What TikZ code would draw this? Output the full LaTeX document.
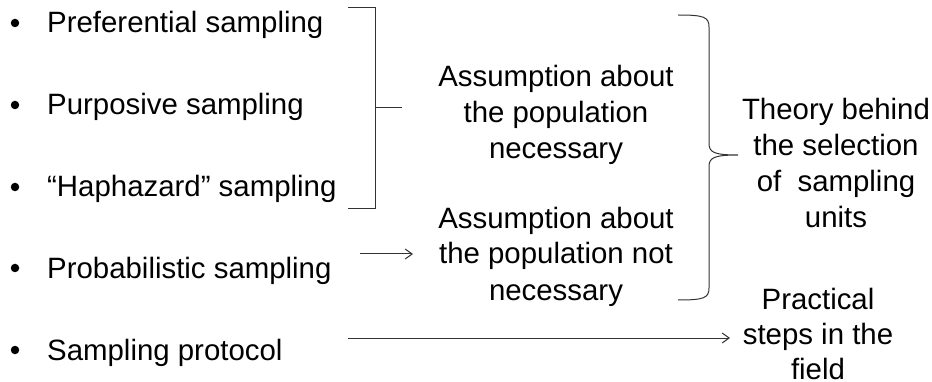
\documentclass[tikz,border=0pt]{standalone}
\usepackage{fontspec}
\setmainfont{Liberation Sans}
\usetikzlibrary{arrows.meta}
\begin{document}
\begin{tikzpicture}[x=1pt,y=-1pt,
  item/.style={anchor=base west,inner sep=0pt,font=\fontsize{29.4}{36}\selectfont},
  blk/.style={anchor=base,inner sep=0pt,align=center,font=\fontsize{29.4}{36}\selectfont},
  ln/.style={draw=black!80,line width=1pt},
  arr/.style={ln,-{Straight Barb[length=7pt,width=10pt]}},
  dot/.style={circle,fill=black,inner sep=0pt,minimum size=8.5pt}]
\useasboundingbox (0,0) rectangle (932,382);
% bullets
\foreach \y/\n in {33/1,115/2,197/3,278/4,360/5}{
  \node[dot] (b\n) at (15,\y-10) {};
}
\node[item] (i1) at (47,33) {Preferential sampling};
\node[item] (i2) at (47,115) {Purposive sampling};
\node[item] (i3) at (47,197) {“Haphazard” sampling};
\node[item] (i4) at (47,278) {Probabilistic sampling};
\node[item] (i5) at (47,360) {Sampling protocol};
% middle blocks (anchor = baseline of last line)
\node[blk] (a1) at (556,159) {Assumption about\\the population\\necessary};
\node[blk] (a2) at (556,300) {Assumption about\\the population not\\necessary};
% right blocks
\node[blk] (t) at (836,228) {Theory behind\\the selection\\of~ sampling\\units};
\node[blk,font=\fontsize{29.4}{35}\selectfont] (p) at (818,379) {Practical\\steps in the\\field};
% square bracket
\coordinate (k1) at (348,8);
\coordinate (k2) at (375,8);
\coordinate (k3) at (375,209);
\coordinate (k4) at (348,209);
\coordinate (km) at (375,108);
\coordinate (kt) at (402,108);
\draw[ln] (k1) -- (k2) -- (k3) -- (k4);
\draw[ln] (km) -- (kt);
% arrows
\coordinate (s1) at (360,254);
\coordinate (e1) at (413,254);
\draw[arr] (s1) -- (e1);
\coordinate (s2) at (348,338);
\coordinate (e2) at (730,338);
\draw[arr] (s2) -- (e2);
% curly brace
\coordinate (c1) at (678,15);
\coordinate (ctip) at (738,155);
\coordinate (c2) at (678,300);
\draw[ln] (c1) .. controls (704,15) and (709,17) .. (709,27) -- (709,143)
  .. controls (709,152) and (713,155) .. (ctip)
  .. controls (713,155) and (709,158) .. (709,167) -- (709,288)
  .. controls (709,298) and (704,300) .. (c2);
\end{tikzpicture}
\end{document}
